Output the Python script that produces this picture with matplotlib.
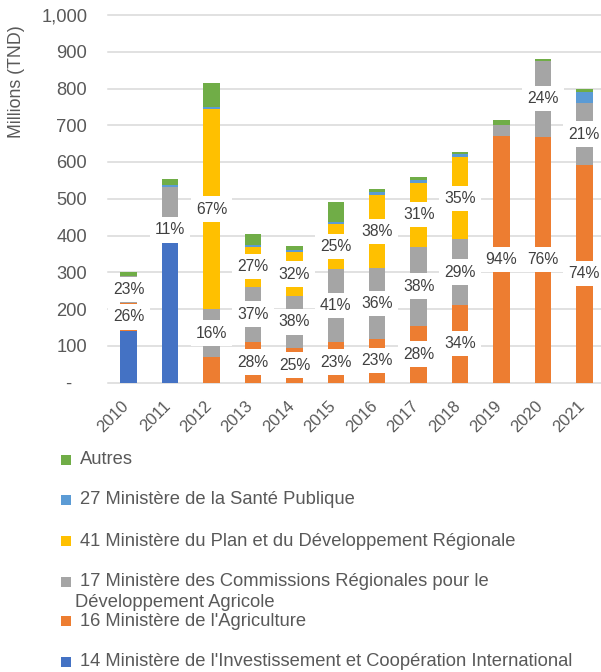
import numpy as np
import matplotlib.pyplot as plt
from matplotlib.patches import Rectangle
from matplotlib.transforms import ScaledTranslation

plt.rcParams["font.family"] = ["Liberation Sans", "DejaVu Sans"]

# ---------------------------------------------------------------
# data (millions TND)
# ---------------------------------------------------------------
years = ["2010", "2011", "2012", "2013", "2014", "2015",
         "2016", "2017", "2018", "2019", "2020", "2021"]

invest = [140, 379, 0, 0, 0, 0, 0, 0, 0, 0, 0, 0]
agri = [77, 72, 69, 111, 95, 111, 118, 155, 211, 671, 668, 592]
crda = [72, 82, 131, 150, 140, 198, 193, 215, 179, 30, 208, 168]
plan = [0, 0, 544, 108, 120, 122, 199, 174, 223, 0, 0, 0]
sante = [1, 4, 7, 4, 6, 6, 9, 7, 8, 0, 0, 31]
autres = [12, 18, 64, 31, 11, 55, 8, 7, 5, 13, 3, 7]

# share labels shown on the chart
agri_pct = ["26%", "11%", "", "28%", "25%", "23%", "23%", "28%", "34%", "94%", "76%", "74%"]
crda_pct = ["23%", "", "16%", "37%", "38%", "41%", "36%", "38%", "29%", "", "24%", "21%"]
plan_pct = ["", "", "67%", "27%", "32%", "25%", "38%", "31%", "35%", "", "", ""]

names = [
    "14 Ministère de l'Investissement et Coopération International",
    "16 Ministère de l'Agriculture",
    "17 Ministère des Commissions Régionales pour le Développement Agricole",
    "41 Ministère du Plan et du Développement Régionale",
    "27 Ministère de la Santé Publique",
    "Autres",
]
colors = ["#4472C4", "#ED7D31", "#A5A5A5", "#FFC000", "#5B9BD5", "#70AD47"]

yticks = [0, 100, 200, 300, 400, 500, 600, 700, 800, 900, 1000]
ytick_labels = ["-   ", "100", "200", "300", "400", "500",
                "600", "700", "800", "900", "1,000"]

# ---------------------------------------------------------------
# figure
# ---------------------------------------------------------------
W, H = 601, 672
fig = plt.figure(figsize=(W / 100, H / 100), dpi=100)
ax = fig.add_axes([108 / W, (H - 382.5) / H, 497 / W, 367.5 / H])

series = [invest, agri, crda, plan, sante, autres]
labels = [None, agri_pct, crda_pct, plan_pct, None, None]
x = np.arange(len(years))
bottom = np.zeros(len(years))
for vals, col, lab in zip(series, colors, labels):
    vals = np.array(vals, dtype=float)
    ax.bar(x, vals, width=0.4, bottom=bottom, color=col, linewidth=0, zorder=2)
    if lab is not None:
        for i, t in enumerate(lab):
            if t:
                ax.text(x[i], bottom[i] + vals[i] / 2, t, ha="center", va="center",
                        fontsize=11.3, color="#404040", zorder=4,
                        bbox=dict(boxstyle="square,pad=0.33", fc="white", ec="none"))
    bottom += vals

ax.set_xlim(-0.5, len(years) - 0.5)
ax.set_ylim(0, 1000)
ax.set_yticks(yticks)
ax.set_yticklabels(ytick_labels)
for y in yticks:
    ax.axhline(y, color="#D9D9D9", linewidth=1.1, zorder=0, clip_on=False)

# year labels, rotated, nudged a little right like the original
ax.set_xticks(x)
ax.set_xticklabels([])
shift = ScaledTranslation(3 / 100, -16 / 100, fig.dpi_scale_trans)
for xi, yr in zip(x, years):
    ax.text(xi, 0, yr, transform=ax.get_xaxis_transform() + shift,
            rotation=45, ha="right", va="top", fontsize=12, color="#595959")

ax.tick_params(axis="both", length=0, colors="#595959")
ax.tick_params(axis="y", pad=15, labelsize=13.2)
for s in ax.spines.values():
    s.set_visible(False)

fig.text(16.5 / W, 1 - 81.5 / H, "Millions (TND)", rotation=90, ha="center", va="center",
         fontsize=12.8, color="#595959")

# ---------------------------------------------------------------
# legend drawn by hand (reversed order, one entry per row)
# ---------------------------------------------------------------
rows = [459.5, 500, 541, 581.5, 621, 661.5]
for name, col, yy in zip(names[::-1], colors[::-1], rows):
    fig.patches.append(Rectangle((61 / W, 1 - (yy + 5) / H), 10 / W, 10 / H,
                                 transform=fig.transFigure, fc=col, ec="none"))
    if name.startswith("17"):
        first, second = name.split(" pour le ")
        fig.text(80 / W, 1 - yy / H, first + " pour le", ha="left", va="center",
                 fontsize=13.2, color="#595959")
        fig.text(75 / W, 1 - (yy + 21) / H, second, ha="left", va="center",
                 fontsize=13.2, color="#595959")
    else:
        fig.text(80 / W, 1 - yy / H, name, ha="left", va="center",
                 fontsize=13.2, color="#595959")

fig.savefig("out.png", dpi=100)
